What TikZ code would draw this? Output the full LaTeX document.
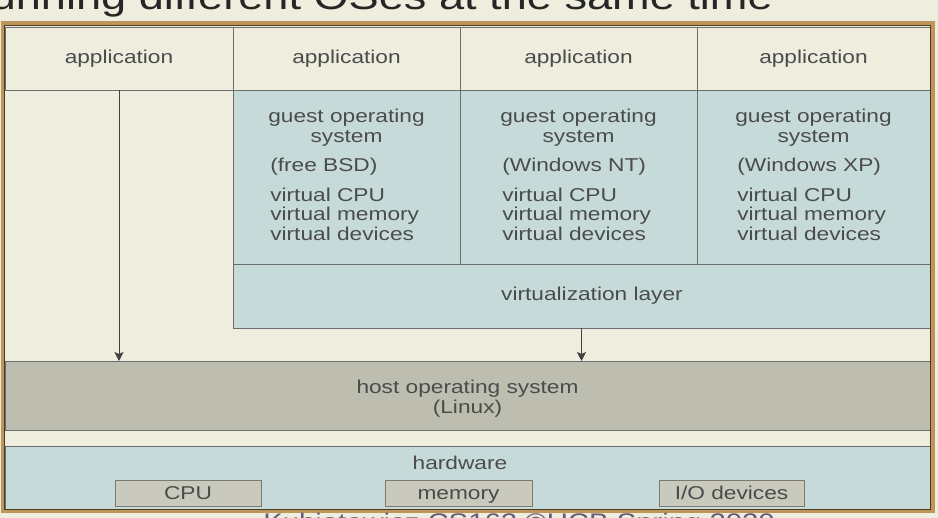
\documentclass[tikz,border=0pt]{standalone}
\usepackage{fontspec}
\setmainfont[FakeStretch=1.22]{Liberation Sans}
\usetikzlibrary{positioning,arrows.meta}
\definecolor{slidebg}{HTML}{EEEDDE}
\definecolor{vmblue}{HTML}{C7DADA}
\definecolor{hostgray}{HTML}{BEBEB0}
\definecolor{devgray}{HTML}{C9C9BD}
\definecolor{devedge}{HTML}{7A7A70}
\definecolor{edgegray}{HTML}{6A6E6E}
\definecolor{txtgray}{HTML}{4A4C4C}
\definecolor{framegold}{HTML}{BE965A}
\definecolor{framedark}{HTML}{4E3C22}
\definecolor{footcol}{HTML}{6A5A7A}

\begin{document}
\begin{tikzpicture}[x=1pt,y=-1pt,
  box/.style={draw=edgegray,line width=0.9pt,rectangle,inner sep=0pt,outer sep=0pt,
    text=txtgray,font=\fontsize{18.6}{20}\selectfont},
  appbox/.style={box,fill=slidebg,minimum height=63pt},
  guestbox/.style={box,fill=vmblue,minimum height=174pt},
  txt/.style={inner sep=0pt,outer sep=0pt,text=txtgray,font=\fontsize{18.6}{19.5}\selectfont},
  devbox/.style={box,fill=devgray,draw=devedge,minimum height=26pt,text height=13.3pt,text depth=0pt},
  arr/.style={draw=black!75,line width=1pt,-{Stealth[length=9pt,width=9pt,inset=2pt]}}]
\useasboundingbox (0,0) rectangle (938,518);
\clip (0,0) rectangle (938,518);
\fill[slidebg] (0,0) rectangle (938,518);

\node[anchor=base east,inner sep=0pt,text=black!85,font=\fontsize{37}{40}\selectfont] (title) at (773,10)
  {Running different OSes at the same time};

% applications
\node[appbox,minimum width=228pt] (app0) at (119,58.5) {application};
\node[appbox,minimum width=227pt,right=0pt of app0] (app1) {application};
\node[appbox,minimum width=237pt,right=0pt of app1] (app2) {application};
\node[appbox,minimum width=233pt,right=0pt of app2] (app3) {application};

% guests
\node[guestbox,minimum width=227pt,below=0pt of app1] (vm1) {};
\node[guestbox,minimum width=237pt,below=0pt of app2] (vm2) {};
\node[guestbox,minimum width=233pt,below=0pt of app3] (vm3) {};
\foreach \i/\os in {1/free BSD,2/Windows NT,3/Windows XP}{
  \node[txt,align=center,below=19.5pt of vm\i.north] (gh\i) {guest operating\\system};
  \node[txt,align=left,anchor=north west] (gd\i) at ([xshift=2pt,yshift=-11.5pt]gh\i.south west)
    {(\os)\\[10.5pt]virtual CPU\\virtual memory\\virtual devices};
}

\node[box,fill=vmblue,minimum width=697pt,minimum height=64pt,anchor=north west] (vlayer) at (vm1.south west) {};
\node[txt] (vlbl) at ([xshift=10.5pt]vlayer.center) {virtualization layer};

% host and hardware
\node[box,fill=hostgray,minimum width=925pt,minimum height=69pt] (hostos) at (467.5,395.5) {};
\node[txt,align=center] (hostlbl) at ([yshift=-3pt]hostos.center) {host operating system\\(Linux)};
\node[box,fill=vmblue,minimum width=925pt,minimum height=64pt] (hw) at (467.5,478) {};
\node[txt] (hwlbl) at (460,463) {hardware};
\node[devbox,minimum width=146pt] (cpu) at (188,493) {CPU};
\node[devbox,minimum width=147pt] (mem) at (458.5,493) {memory};
\node[devbox,minimum width=145pt] (io) at (731.5,493) {I/O devices};

\draw[arr] (app0.south) -- (app0.south |- hostos.north);
\draw[arr] (vlayer.south) -- (vlayer.south |- hostos.north);

% frame
\draw[framegold,line width=4pt] (2.5,23.5) rectangle (932.5,511);
\draw[framedark,line width=1pt] (4.5,25.5) rectangle (930.5,509.5);

\node[anchor=base,inner sep=0pt,text=footcol,font=\fontsize{24}{26}\selectfont] (foot) at (519,531)
  {Kubiatowicz CS162 ©UCB Spring 2020};
\end{tikzpicture}
\end{document}
